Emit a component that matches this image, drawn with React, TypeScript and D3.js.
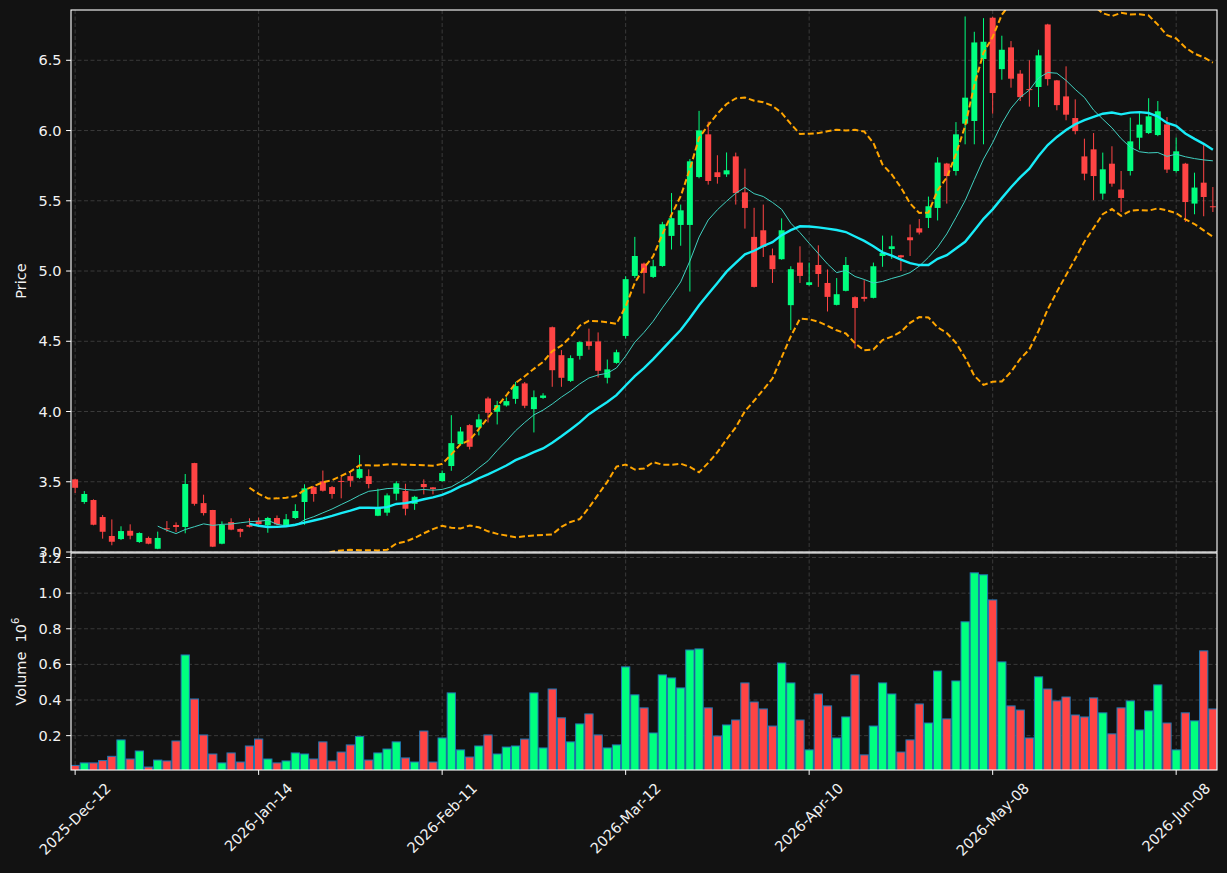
import React, { useMemo } from 'react';
import * as d3 from 'd3';

// ---------- data ----------
const tickLabels = ['2025-Dec-12', '2026-Jan-14', '2026-Feb-11', '2026-Mar-12', '2026-Apr-10', '2026-May-08', '2026-Jun-08'];
const tickIndex = [0, 20, 40, 60, 80, 100, 120];

const openP = [
  3.517, 3.356, 3.370, 3.249, 3.114, 3.092, 3.151, 3.071, 3.100, 3.023,
  3.169, 3.192, 3.178, 3.633, 3.348, 3.299, 3.059, 3.213, 3.164, 3.192,
  3.223, 3.190, 3.242, 3.192, 3.242, 3.356, 3.462, 3.503, 3.462, 3.506,
  3.540, 3.528, 3.540, 3.258, 3.280, 3.415, 3.434, 3.343, 3.484, 3.460,
  3.505, 3.612, 3.768, 3.903, 3.887, 4.093, 3.998, 4.043, 4.090, 4.200,
  4.017, 4.097, 4.600, 4.401, 4.218, 4.396, 4.499, 4.499, 4.240, 4.346,
  4.538, 4.965, 5.053, 4.958, 5.036, 5.250, 5.328, 5.328, 5.669, 5.973,
  5.703, 5.688, 5.816, 5.560, 5.243, 5.290, 5.112, 5.084, 4.757, 5.060,
  4.901, 5.043, 4.915, 4.759, 4.859, 4.814, 4.816, 4.809, 5.107, 5.157,
  5.112, 5.240, 5.304, 5.378, 5.449, 5.765, 5.712, 6.049, 6.068, 6.509,
  6.803, 6.437, 6.592, 6.405, 6.295, 6.310, 6.755, 6.357, 6.243, 6.089,
  5.816, 5.866, 5.551, 5.764, 5.580, 5.712, 5.949, 5.982, 5.968, 6.044,
  5.712, 5.764, 5.480, 5.629, 5.461,
];
const highP = [
  3.520, 3.434, 3.375, 3.263, 3.232, 3.183, 3.197, 3.140, 3.110, 3.145,
  3.220, 3.211, 3.555, 3.635, 3.408, 3.300, 3.218, 3.240, 3.168, 3.240,
  3.245, 3.250, 3.260, 3.270, 3.340, 3.482, 3.470, 3.580, 3.470, 3.536,
  3.567, 3.690, 3.588, 3.450, 3.417, 3.503, 3.486, 3.400, 3.517, 3.462,
  3.580, 3.974, 3.890, 3.910, 3.981, 4.105, 4.076, 4.100, 4.211, 4.210,
  4.150, 4.130, 4.605, 4.437, 4.400, 4.500, 4.590, 4.563, 4.370, 4.440,
  4.963, 5.243, 5.060, 5.080, 5.350, 5.555, 5.473, 5.797, 6.140, 6.063,
  5.824, 5.844, 5.843, 5.729, 5.450, 5.473, 5.160, 5.375, 5.034, 5.176,
  5.060, 5.183, 5.011, 4.950, 5.100, 4.820, 4.935, 5.060, 5.252, 5.252,
  5.115, 5.331, 5.370, 5.530, 5.810, 5.770, 6.060, 6.812, 6.703, 6.800,
  6.810, 6.675, 6.637, 6.430, 6.500, 6.575, 6.760, 6.360, 6.457, 6.222,
  5.942, 5.982, 5.843, 5.888, 5.712, 6.092, 6.127, 6.230, 6.210, 6.096,
  5.950, 5.770, 5.700, 5.902, 5.598,
];
const lowP = [
  3.420, 3.343, 3.190, 3.095, 3.048, 3.085, 3.090, 3.065, 3.055, 3.020,
  3.144, 3.142, 3.133, 3.330, 3.260, 3.035, 3.055, 3.155, 3.105, 3.175,
  3.180, 3.137, 3.190, 3.185, 3.235, 3.194, 3.358, 3.430, 3.380, 3.382,
  3.464, 3.520, 3.453, 3.255, 3.258, 3.368, 3.261, 3.300, 3.410, 3.410,
  3.500, 3.578, 3.760, 3.730, 3.830, 3.922, 3.908, 4.035, 4.055, 4.024,
  3.851, 4.090, 4.176, 4.176, 4.210, 4.370, 4.440, 4.242, 4.200, 4.340,
  4.520, 4.950, 4.840, 4.950, 5.030, 5.153, 5.180, 4.854, 5.660, 5.615,
  5.622, 5.670, 5.473, 5.302, 4.883, 5.100, 4.915, 5.080, 4.580, 4.915,
  4.895, 4.887, 4.712, 4.755, 4.855, 4.449, 4.783, 4.805, 5.030, 5.086,
  5.000, 5.107, 5.260, 5.306, 5.360, 5.480, 5.680, 5.902, 5.902, 5.902,
  6.120, 6.362, 6.305, 6.210, 6.170, 6.167, 6.320, 6.144, 6.073, 5.973,
  5.646, 5.504, 5.508, 5.600, 5.420, 5.680, 5.864, 5.975, 5.960, 5.698,
  5.700, 5.349, 5.404, 5.390, 5.420,
];
const closeP = [
  3.457, 3.413, 3.194, 3.144, 3.073, 3.149, 3.116, 3.135, 3.059, 3.100,
  3.162, 3.178, 3.484, 3.343, 3.277, 3.038, 3.192, 3.159, 3.144, 3.180,
  3.199, 3.242, 3.197, 3.233, 3.292, 3.453, 3.413, 3.436, 3.413, 3.500,
  3.507, 3.590, 3.484, 3.315, 3.403, 3.489, 3.308, 3.393, 3.462, 3.448,
  3.562, 3.775, 3.858, 3.749, 3.944, 3.991, 4.046, 4.074, 4.181, 4.041,
  4.102, 4.114, 4.294, 4.240, 4.380, 4.494, 4.467, 4.290, 4.300, 4.422,
  4.942, 5.107, 4.987, 5.034, 5.333, 5.376, 5.432, 5.781, 6.001, 5.641,
  5.669, 5.717, 5.555, 5.449, 4.887, 5.171, 5.013, 5.290, 5.013, 4.965,
  4.920, 4.979, 4.816, 4.835, 5.043, 4.737, 4.802, 5.034, 5.128, 5.176,
  5.098, 5.219, 5.274, 5.461, 5.772, 5.676, 5.973, 6.234, 6.627, 6.632,
  6.267, 6.575, 6.369, 6.238, 6.290, 6.535, 6.366, 6.181, 6.113, 5.996,
  5.693, 5.676, 5.724, 5.622, 5.520, 5.923, 6.042, 6.101, 6.137, 5.722,
  5.852, 5.491, 5.594, 5.527, 5.454,
];
// volume in millions
const volumeM = [
  0.033, 0.047, 0.047, 0.060, 0.084, 0.176, 0.069, 0.114, 0.024, 0.063,
  0.058, 0.170, 0.653, 0.406, 0.204, 0.097, 0.047, 0.103, 0.052, 0.142,
  0.181, 0.069, 0.047, 0.058, 0.103, 0.097, 0.069, 0.165, 0.058, 0.108,
  0.148, 0.196, 0.063, 0.103, 0.125, 0.165, 0.075, 0.052, 0.226, 0.052,
  0.187, 0.440, 0.120, 0.080, 0.142, 0.204, 0.097, 0.136, 0.142, 0.181,
  0.440, 0.131, 0.462, 0.300, 0.165, 0.266, 0.322, 0.204, 0.131, 0.148,
  0.586, 0.429, 0.356, 0.215, 0.541, 0.524, 0.468, 0.681, 0.687, 0.356,
  0.198, 0.260, 0.288, 0.496, 0.389, 0.350, 0.254, 0.608, 0.496, 0.288,
  0.120, 0.434, 0.367, 0.187, 0.305, 0.541, 0.092, 0.254, 0.496, 0.434,
  0.108, 0.176, 0.378, 0.271, 0.563, 0.294, 0.507, 0.839, 1.114, 1.103,
  0.962, 0.614, 0.367, 0.344, 0.187, 0.530, 0.462, 0.395, 0.417, 0.316,
  0.305, 0.412, 0.328, 0.210, 0.356, 0.395, 0.232, 0.339, 0.485, 0.271,
  0.120, 0.328, 0.283, 0.676, 0.350,
];
const priceTicks = [3.0, 3.5, 4.0, 4.5, 5.0, 5.5, 6.0, 6.5];
const volumeTicks = [0.2, 0.4, 0.6, 0.8, 1.0, 1.2];
const priceRange = [3.0, 6.858];

// ---------- style ----------
const BG = '#121212';
const UP = '#00ff7f';
const DOWN = '#ff4444';
const VOL_EDGE = '#1f77b4';
const GRID = '#3a3a3a';
const TEXT = '#f2f2f2';
const FONT = 'DejaVu Sans';
const FS = 14.5;

const W = 1227, H = 873;
const L = 71, R = 1217, PT = 10, PB = 552, VT = 553, VB = 770;

function sma(arr: number[], n: number): (number | null)[] {
  return arr.map((_, i) => (i < n - 1 ? null : (d3.mean(arr.slice(i - n + 1, i + 1)) as number)));
}
function sdev(arr: number[], n: number): (number | null)[] {
  return arr.map((_, i) => (i < n - 1 ? null : (d3.deviation(arr.slice(i - n + 1, i + 1)) as number)));
}

function measure(text: string, size: number) {
  if (typeof document === 'undefined') return text.length * size * 0.6;
  const c = document.createElement('canvas');
  const ctx = c.getContext('2d');
  if (!ctx) return text.length * size * 0.6;
  ctx.font = `${size}px "${FONT}"`;
  return ctx.measureText(text).width;
}

export default function App() {
  const n = closeP.length;
  const x = d3.scaleLinear().domain([-0.45, n - 1 + 0.45]).range([L, R]);
  const step = x(1) - x(0);
  const y = d3.scaleLinear().domain(priceRange).range([PB, PT]);
  const vmin = (d3.min(volumeM) as number) * 0.3;
  const vmax = (d3.max(volumeM) as number) * 1.1;
  const yv = d3.scaleLinear().domain([vmin, vmax]).range([VB, VT]);

  const ma10 = useMemo(() => sma(closeP, 10), []);
  const ma20 = useMemo(() => sma(closeP, 20), []);
  const sd20 = useMemo(() => sdev(closeP, 20), []);
  const upper = ma20.map((m, i) => (m == null ? null : m + 2 * (sd20[i] as number)));
  const lower = ma20.map((m, i) => (m == null ? null : m - 2 * (sd20[i] as number)));

  const line = d3
    .line<number | null>()
    .defined((d) => d != null)
    .x((_, i) => x(i))
    .y((d) => y(d as number));

  const bodyW = step * 0.65;
  const volW = step * 0.9;

  const xLabelTop = VB + 4.9 + 4.9;

  return (
    <svg width={W} height={H} style={{ position: 'absolute', left: 0, top: 0 }} fontFamily={FONT}>
      <defs>
        <clipPath id="pclip">
          <rect x={L} y={PT} width={R - L} height={PB - PT} />
        </clipPath>
        <clipPath id="vclip">
          <rect x={L} y={VT} width={R - L} height={VB - VT} />
        </clipPath>
      </defs>
      <rect x={0} y={0} width={W} height={H} fill={BG} />

      {/* grid */}
      <g stroke={GRID} strokeWidth={1} strokeDasharray="4 2.5">
        {priceTicks.map((t) => (
          <line key={'pg' + t} x1={L} x2={R} y1={y(t)} y2={y(t)} />
        ))}
        {tickIndex.map((t) => (
          <line key={'pxg' + t} x1={x(t)} x2={x(t)} y1={PT} y2={PB} />
        ))}
        {volumeTicks.map((t) => (
          <line key={'vg' + t} x1={L} x2={R} y1={yv(t)} y2={yv(t)} />
        ))}
        {tickIndex.map((t) => (
          <line key={'vxg' + t} x1={x(t)} x2={x(t)} y1={VT} y2={VB} />
        ))}
      </g>

      {/* candles + overlays */}
      <g clipPath="url(#pclip)">
        {closeP.map((c, i) => {
          const o = openP[i];
          const up = c >= o;
          const col = up ? UP : DOWN;
          const top = y(Math.max(o, c));
          const bot = y(Math.min(o, c));
          return (
            <g key={'c' + i}>
              <line x1={x(i)} x2={x(i)} y1={y(highP[i])} y2={y(lowP[i])} stroke={col} strokeWidth={1} />
              <rect x={x(i) - bodyW / 2} y={top} width={bodyW} height={Math.max(1, bot - top)} fill={col} />
            </g>
          );
        })}
        <path d={line(ma10) || ''} fill="none" stroke="#40d0c0" strokeWidth={1} />
        <path d={line(ma20) || ''} fill="none" stroke="#18ecf8" strokeWidth={2.4} />
        <path d={line(upper) || ''} fill="none" stroke="#ffa500" strokeWidth={2} strokeDasharray="6 3" />
        <path d={line(lower) || ''} fill="none" stroke="#ffa500" strokeWidth={2} strokeDasharray="6 3" />
      </g>

      {/* volume */}
      <g clipPath="url(#vclip)">
        {volumeM.map((v, i) => {
          const up = closeP[i] >= openP[i];
          return (
            <rect
              key={'v' + i}
              x={x(i) - volW / 2}
              y={yv(v)}
              width={volW}
              height={VB - yv(v) + 2}
              fill={up ? UP : DOWN}
              stroke={VOL_EDGE}
              strokeWidth={1}
            />
          );
        })}
      </g>

      {/* spines */}
      <g fill="none" stroke="#ffffff" strokeWidth={1.1}>
        <rect x={L} y={PT} width={R - L} height={PB - PT} />
        <rect x={L} y={VT} width={R - L} height={VB - VT} />
      </g>

      {/* ticks & labels */}
      <g fill={TEXT} fontSize={FS}>
        {priceTicks.map((t) => (
          <g key={'pt' + t}>
            <line x1={L - 4.9} x2={L} y1={y(t)} y2={y(t)} stroke="#fff" strokeWidth={1} />
            <text x={L - 9.5} y={y(t)} textAnchor="end" dominantBaseline="central">
              {t.toFixed(1)}
            </text>
          </g>
        ))}
        {volumeTicks.map((t) => (
          <g key={'vt' + t}>
            <line x1={L - 4.9} x2={L} y1={yv(t)} y2={yv(t)} stroke="#fff" strokeWidth={1} />
            <text x={L - 9.5} y={yv(t)} textAnchor="end" dominantBaseline="central">
              {t.toFixed(1)}
            </text>
          </g>
        ))}
        {tickIndex.map((t, k) => {
          const lw = measure(tickLabels[k], FS);
          const hh = FS * 1.164;
          const ext = (lw + hh) / Math.SQRT2;
          const cx = x(t);
          const cy = xLabelTop + ext / 2;
          return (
            <g key={'xt' + t}>
              <line x1={cx} x2={cx} y1={VB} y2={VB + 4.9} stroke="#fff" strokeWidth={1} />
              <text
                x={cx}
                y={cy}
                textAnchor="middle"
                dominantBaseline="central"
                transform={`rotate(-45 ${cx} ${cy})`}
              >
                {tickLabels[k]}
              </text>
            </g>
          );
        })}
        <text
          x={21}
          y={(PT + PB) / 2}
          textAnchor="middle"
          dominantBaseline="central"
          transform={`rotate(-90 21 ${(PT + PB) / 2})`}
        >
          Price
        </text>
        <text
          x={21}
          y={(VT + VB) / 2}
          textAnchor="middle"
          dominantBaseline="central"
          transform={`rotate(-90 21 ${(VT + VB) / 2})`}
        >
          {'Volume\u00a0\u00a010'}
          <tspan fontSize={FS * 0.7} dy={-6}>
            6
          </tspan>
        </text>
      </g>
    </svg>
  );
}
